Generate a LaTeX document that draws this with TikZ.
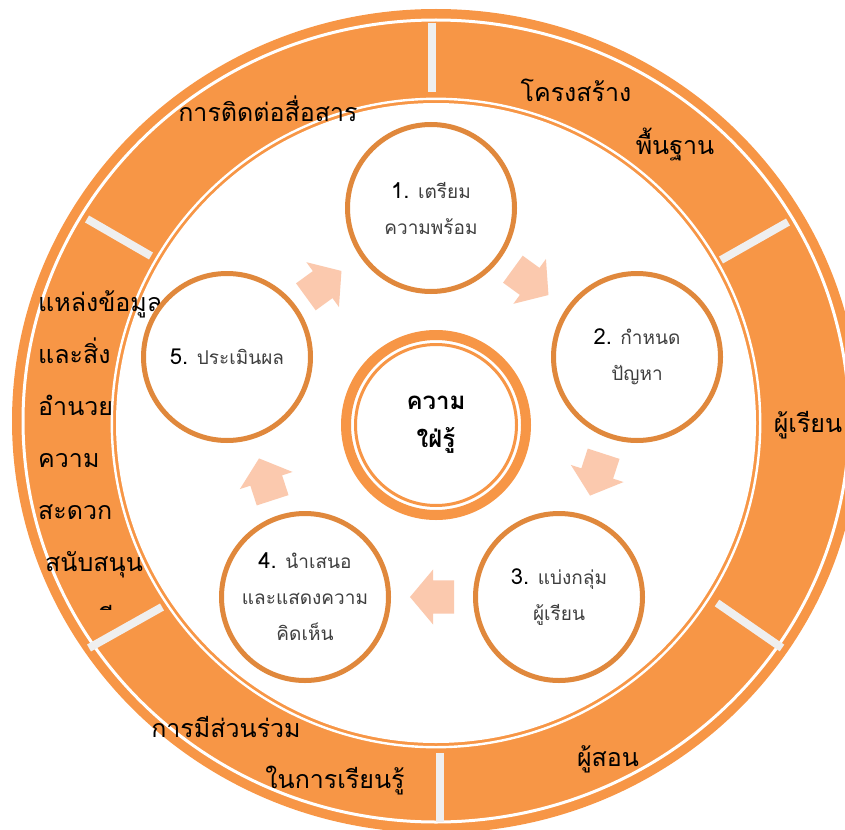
\documentclass[tikz,border=0pt]{standalone}
\usepackage{fontspec}
\newfontfamily\thaifont[Script=Thai]{Loma}
\usetikzlibrary{shapes.arrows}
\definecolor{ring}{HTML}{F79646}
\definecolor{stepline}{HTML}{E0883C}
\definecolor{peach}{HTML}{FBC9AE}
\definecolor{sepgray}{HTML}{EFEFEF}
\definecolor{txtgray}{HTML}{3F3F3F}
\tikzset{
  stepc/.style  ={circle,draw=stepline,line width=5,fill=white,minimum size=167,inner sep=0pt,align=center,text=txtgray,font=\thaifont\fontsize{19}{36}\selectfont},
  core/.style   ={circle,draw=ring,line width=10,fill=white,minimum size=180,inner sep=0pt,align=center,font=\thaifont\bfseries\fontsize{24}{38}\selectfont},
  flow/.style   ={single arrow,fill=peach,minimum height=44,single arrow head extend=11,single arrow tip angle=100,inner xsep=0pt,inner ysep=16.5pt},
  seg/.style    ={font=\thaifont\fontsize{25}{52}\selectfont,inner sep=0pt,anchor=base},
  sepline/.style={sepgray,line width=8},
}
\newcommand{\num}[1]{{\color{black}\fontsize{22}{36}\selectfont #1}}

\begin{document}
\begin{tikzpicture}[x=1pt,y=-1pt]
  \useasboundingbox (0,0) rectangle (845,829);
  \clip (0,0) rectangle (845,829);
  % outer ring
  \fill[ring] (436,421) ellipse [x radius=424, y radius=412];
  \draw[white,line width=3] (436,421) ellipse [x radius=413, y radius=401];
  \fill[white] (436,423) circle [radius=320];
  \draw[white,line width=2.4] (436,423) circle [radius=324.2];
  \draw[sepline] (432,23)--(432,92);   \draw[sepline] (440,753)--(440,822);
  \draw[sepline] (87,219)--(151,256);  \draw[sepline] (721,260)--(788,222);
  \draw[sepline] (717,603)--(782,648); \draw[sepline] (89,648)--(162,607);
  % ring texts
  \node[seg] (comm) at (268,122) {การติดต่อสื่อสาร};
  \node[seg] (base1) at (576,102) {โครงสร้าง};
  \node[seg] (base2) at (675,155) {พื้นฐาน};
  \node[seg] (lrn) at (808,432) {ผู้เรียน};
  \node[seg] (tch) at (608,766) {ผู้สอน};
  \node[seg] (part1) at (226,737) {การมีส่วนร่วม};
  \node[seg] (part2) at (335,788) {ในการเรียนรู้};
  \node[seg,anchor=north west,align=left] (src) at (38,290) {แหล่งข้อมูล\\และสิ่ง\\อำนวย\\ความ\\สะดวก\\\hspace{7pt}สนับสนุน};
  \begin{scope}
    \clip (95,598) rectangle (120,609);
    \node[seg,anchor=base west] (cut) at (97,626) {ที};
  \end{scope}
  % steps
  \node[stepc] (s1) at (431,208) {\num{1.} เตรียม\\ความพร้อม};
  \node[stepc] (s2) at (637,357) {\num{2.} กำหนด\\ปัญหา};
  \node[stepc] (s3) at (559,597) {\num{3.} แบ่งกลุ่ม\\ผู้เรียน};
  \node[stepc] (s4) at (305,597) {\num{4.} นำเสนอ\\และแสดงความ\\คิดเห็น};
  \node[stepc] (s5) at (227,357) {\num{5.} ประเมินผล};
  \node[core] (cen) at (436,425) {ความ\\ใฝ่รู้};
  \draw[ring,line width=3] (cen.center) circle [radius=80.5];
  \node[flow,rotate=-36] (f12) at (525,278) {};
  \node[flow,rotate=-108] (f23) at (599,468) {};
  \node[flow,rotate=180] (f34) at (439,597) {};
  \node[flow,rotate=108] (f45) at (268,486) {};
  \node[flow,rotate=36] (f51) at (318,288) {};
\end{tikzpicture}
\end{document}
